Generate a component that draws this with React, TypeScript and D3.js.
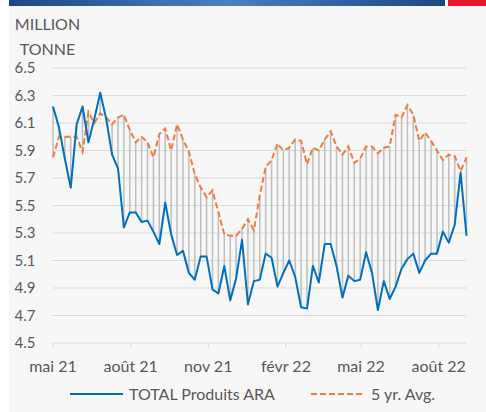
import React from "react";
import * as d3 from "d3";

const startDate = new Date(2021, 4, 1);
const totalARA = [
  6.22, 6.07, 5.84, 5.63, 6.09, 6.22, 5.96, 6.13, 6.32, 6.13,
  5.87, 5.77, 5.34, 5.45, 5.45, 5.38, 5.39, 5.31, 5.22, 5.52,
  5.29, 5.14, 5.17, 5.01, 4.96, 5.13, 5.13, 4.89, 4.86, 5.06,
  4.81, 4.97, 5.25, 4.78, 4.95, 4.96, 5.15, 5.12, 4.91, 5.01,
  5.10, 4.98, 4.76, 4.75, 5.06, 4.94, 5.22, 5.22, 5.06, 4.83,
  4.99, 4.95, 4.96, 5.16, 5.01, 4.74, 4.95, 4.82, 4.91, 5.04,
  5.11, 5.15, 5.01, 5.10, 5.15, 5.15, 5.31, 5.23, 5.36, 5.74,
  5.28,
];
const fiveYrAvg = [
  5.85, 6.00, 6.00, 6.00, 6.00, 5.89, 6.18, 6.10, 6.17, 6.14,
  6.09, 6.14, 6.16, 6.05, 5.96, 6.00, 5.96, 5.85, 6.02, 6.06,
  5.90, 6.09, 5.98, 5.89, 5.73, 5.63, 5.56, 5.61, 5.45, 5.29,
  5.28, 5.28, 5.33, 5.40, 5.32, 5.57, 5.78, 5.83, 5.95, 5.90,
  5.92, 5.98, 5.97, 5.80, 5.92, 5.90, 5.98, 6.04, 5.93, 5.87,
  5.93, 5.81, 5.84, 5.93, 5.93, 5.88, 5.92, 5.93, 6.16, 6.14,
  6.23, 6.16, 5.97, 6.03, 5.97, 5.90, 5.83, 5.87, 5.86, 5.75,
  5.85,
];
const yTicks = [4.5, 4.7, 4.9, 5.1, 5.3, 5.5, 5.7, 5.9, 6.1, 6.3, 6.5];
const xTickDates = [
  new Date(2021, 4, 1), new Date(2021, 7, 1), new Date(2021, 10, 1),
  new Date(2022, 1, 1), new Date(2022, 4, 1), new Date(2022, 7, 1),
];
const xTickLabels = ["mai 21", "août 21", "nov 21", "févr 22", "mai 22", "août 22"];
const seriesNames = ["TOTAL Produits ARA", "5 yr. Avg."];

const W = 486, H = 412;
const FONT = "Lato, 'Open Sans', sans-serif";
const TXT = "#595959";
const BLUE = "#0070c0";
const ORANGE = "#f07c3e";

export default function App() {
  const dates = totalARA.map((_, i) => d3.timeDay.offset(startDate, 7 * i));
  const x = d3.scaleTime().domain([dates[0], dates[dates.length - 1]]).range([53, 466.5]);
  const y = d3.scaleLinear().domain([4.5, 6.5]).range([343, 68]);

  const line = d3.line<number>().x((_, i) => x(dates[i])).y((d) => y(d));

  return (
    <svg width={W} height={H} style={{ position: "absolute", left: 0, top: 0, display: "block" }}>
      <defs>
        <linearGradient id="banner" x1="0" x2="1" y1="0" y2="0">
          <stop offset="0" stopColor="#1f4684" />
          <stop offset="0.5" stopColor="#4b80c0" />
          <stop offset="1" stopColor="#1f4684" />
        </linearGradient>
      </defs>
      <rect x={0} y={0} width={W} height={H} fill="#ffffff" />
      <rect x={9} y={6} width={W - 9} height={H - 6} fill="#f7f7f7" />
      <rect x={9} y={0} width={436} height={6} fill="url(#banner)" />
      <rect x={448} y={0} width={38} height={6} fill="#e8192c" />

      <text x={47.5} y={24.5} dy="0.35em" textAnchor="middle" fontFamily={FONT} fontSize={16} fill={TXT}>MILLION</text>
      <text x={47.5} y={49} dy="0.35em" textAnchor="middle" fontFamily={FONT} fontSize={16} fill={TXT}>TONNE</text>

      {yTicks.map((t) => (
        <g key={t}>
          <line x1={53} x2={466.5} y1={y(t)} y2={y(t)} stroke="#d9d9d9" strokeWidth={1} />
          <text x={35.5} y={y(t)} dy="0.36em" textAnchor="end" fontFamily={FONT} fontSize={15} fill={TXT}>
            {t.toFixed(1)}
          </text>
        </g>
      ))}

      {xTickDates.map((d, i) => (
        <g key={i}>
          <line x1={x(d)} x2={x(d)} y1={343} y2={348} stroke="#d9d9d9" strokeWidth={1} />
          <text x={x(d)} y={366} dy="0.35em" textAnchor="middle" fontFamily={FONT} fontSize={16} fill={TXT}>
            {xTickLabels[i]}
          </text>
        </g>
      ))}

      {totalARA.map((v, i) => (
        <line
          key={i}
          x1={x(dates[i])}
          x2={x(dates[i])}
          y1={y(v)}
          y2={y(fiveYrAvg[i])}
          stroke="#bfbfbf"
          strokeWidth={1.5}
        />
      ))}

      <path d={line(fiveYrAvg) || ""} fill="none" stroke={ORANGE} strokeWidth={2} strokeDasharray="6,3" />
      <path d={line(totalARA) || ""} fill="none" stroke={BLUE} strokeWidth={2} strokeLinejoin="round" />

      <line x1={70} x2={123} y1={394} y2={394} stroke={BLUE} strokeWidth={2} />
      <text x={129} y={394} dy="0.35em" fontFamily={FONT} fontSize={16} fill={TXT}>{seriesNames[0]}</text>
      <line x1={311} x2={363} y1={394} y2={394} stroke={ORANGE} strokeWidth={2} strokeDasharray="6,3" />
      <text x={371} y={394} dy="0.35em" fontFamily={FONT} fontSize={16} fill={TXT}>{seriesNames[1]}</text>
    </svg>
  );
}
